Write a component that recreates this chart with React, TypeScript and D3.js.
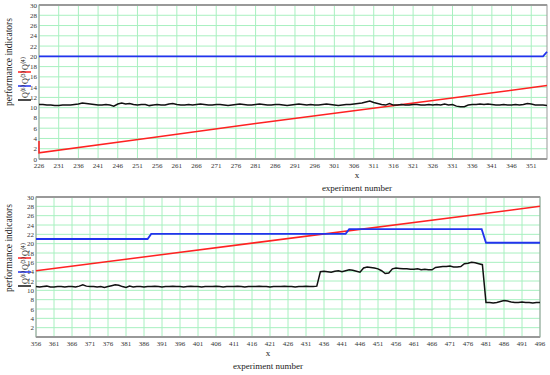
import React from 'react';
import * as d3 from 'd3';

// top panel (experiments 226..355)
const topDomain = [226, 355];
const topRed = [[226, 3.5], [226, 1.2], [254, 4.1], [281, 6.9], [355, 14.3]];
const topBlue = [[226, 20], [354, 20], [355, 20.9]];
const topBlack = [
  10.6, 10.6, 10.5, 10.5, 10.4, 10.4, 10.5, 10.5, 10.5, 10.6,
  10.7, 10.9, 10.8, 10.7, 10.6, 10.5, 10.5, 10.6, 10.5, 10.3,
  10.7, 10.9, 10.7, 10.8, 10.6, 10.5, 10.6, 10.6, 10.4, 10.5,
  10.6, 10.5, 10.5, 10.7, 10.8, 10.6, 10.5, 10.5, 10.6, 10.5,
  10.6, 10.7, 10.6, 10.5, 10.5, 10.6, 10.6, 10.5, 10.4, 10.5,
  10.6, 10.7, 10.6, 10.5, 10.5, 10.6, 10.7, 10.6, 10.5, 10.5,
  10.6, 10.6, 10.5, 10.4, 10.5, 10.6, 10.7, 10.6, 10.5, 10.6,
  10.5, 10.5, 10.6, 10.7, 10.6, 10.5, 10.4, 10.5, 10.6, 10.6,
  10.7, 10.8, 10.9, 11.1, 11.3, 11.0, 10.8, 10.6, 10.5, 10.8,
  10.5, 10.5, 10.6, 10.5, 10.5, 10.6, 10.6, 10.5, 10.5, 10.6,
  10.5, 10.6, 10.5, 10.7, 10.5, 10.6, 10.3, 10.2, 10.2, 10.5,
  10.6, 10.6, 10.7, 10.6, 10.7, 10.6, 10.5, 10.5, 10.6, 10.5,
  10.5, 10.6, 10.5, 10.6, 10.8, 10.7, 10.5, 10.5, 10.5, 10.4,
];
const topTicks = [226, 231, 236, 241, 246, 251, 256, 261, 266, 271, 276, 281, 286, 291, 296, 301, 306, 311, 316, 321, 326, 331, 336, 341, 346, 351];

// bottom panel (experiments 356..496)
const botDomain = [356, 496];
const botRed = [[356, 14.2], [496, 28]];
const botBlue = [[356, 21], [387, 21], [388, 22.1], [442, 22.1], [443, 23.1], [479.8, 23.1], [481, 20.2], [496, 20.2]];
const botBlack = [
  10.8, 10.7, 10.8, 10.9, 10.7, 10.7, 10.8, 10.8, 10.7, 10.8,
  10.8, 10.7, 10.9, 11.2, 10.9, 10.8, 10.8, 10.7, 10.8, 10.6,
  10.8, 11.0, 11.2, 11.1, 10.8, 10.6, 10.9, 10.7, 10.8, 10.8,
  10.7, 10.8, 10.8, 10.9, 10.8, 10.7, 10.8, 10.8, 10.9, 10.8,
  10.8, 10.7, 10.8, 10.9, 10.8, 10.8, 10.7, 10.8, 10.8, 10.8,
  10.9, 10.8, 10.7, 10.8, 10.8, 10.8, 10.9, 10.8, 10.7, 10.8,
  10.8, 10.8, 10.9, 10.8, 10.8, 10.7, 10.8, 10.8, 10.8, 10.9,
  10.8, 10.8, 10.7, 10.8, 10.8, 10.9, 10.8, 10.8, 10.9,
  14.0, 14.1, 14.0, 13.9, 14.1, 14.2, 14.0, 14.2, 14.4, 14.3,
  14.1, 13.9, 14.8, 15.0, 14.9, 14.8, 14.6, 14.2, 13.6, 13.7,
  14.6, 14.8, 14.7, 14.6, 14.6, 14.5, 14.5, 14.6, 14.4, 14.5,
  14.4, 14.4, 14.9, 15.0, 15.1, 15.1, 15.2, 15.0, 15.0, 15.1,
  15.7, 15.8, 16.0, 15.9, 15.7, 15.5,
  7.4, 7.4, 7.3, 7.4, 7.6, 7.8, 7.7, 7.5, 7.4, 7.4,
  7.5, 7.4, 7.4, 7.3, 7.4, 7.4,
];
const botTicks = [356, 361, 366, 371, 376, 381, 386, 391, 396, 401, 406, 411, 416, 421, 426, 431, 436, 441, 446, 451, 456, 461, 466, 471, 476, 481, 486, 491, 496];

const yTicks = [0, 2, 4, 6, 8, 10, 12, 14, 16, 18, 20, 22, 24, 26, 28, 30];
const legendSup = ['⟨4⟩', '⟨3⟩', '⟨6⟩'];
const legendColors = ['#ff2222', '#2233ee', '#111111'];

const FONT = '"Liberation Serif", "Times New Roman", serif';

function Panel({ box, domain, ticks, red, blue, black, showZero, labelX, labelY, legendY }) {
  const x = d3.scaleLinear().domain(domain).range([box.left, box.right]);
  const y = d3.scaleLinear().domain([0, 30]).range([box.bottom, box.top]);
  const line = d3.line().x((d) => x(d[0])).y((d) => y(d[1]));
  const blackPts = black.map((v, i) => [domain[0] + i, v]);
  return (
    <g>
      {ticks.map((t) => (
        <line key={'v' + t} x1={x(t)} x2={x(t)} y1={box.top} y2={box.bottom} stroke="#a8f0c0" strokeWidth={1} />
      ))}
      {yTicks.map((t) => (
        <line key={'h' + t} x1={box.left} x2={box.right} y1={y(t)} y2={y(t)} stroke="#a8f0c0" strokeWidth={1} />
      ))}
      <rect x={box.left} y={box.top} width={box.right - box.left} height={box.bottom - box.top} fill="none" stroke="#999" strokeWidth={1} />
      <line x1={box.left} x2={box.right} y1={box.top} y2={box.top} stroke="#999" strokeWidth={2} />
      <line x1={box.left} x2={box.right} y1={box.bottom} y2={box.bottom} stroke="#999" strokeWidth={2} />
      <path d={line(red)} fill="none" stroke="#ff2222" strokeWidth={1.5} />
      <path d={line(blue)} fill="none" stroke="#2233ee" strokeWidth={1.8} />
      <path d={line(blackPts)} fill="none" stroke="#111" strokeWidth={1.5} />
      {yTicks.filter((t) => showZero || t > 0).map((t) => (
        <text key={'yl' + t} x={box.left - 2} y={y(t) + 2.5} fontSize={7} textAnchor="end" fill="#333" fontFamily={FONT}>{t}</text>
      ))}
      {ticks.map((t) => (
        <text key={'xl' + t} x={x(t)} y={box.bottom + 9} fontSize={7} textAnchor="middle" fill="#333" fontFamily={FONT}>{t}</text>
      ))}
      <text x={labelX} y={labelY} fontSize={9} textAnchor="middle" fill="#222" fontFamily={FONT}>x</text>
      <text x={labelX} y={labelY + 13} fontSize={9} textAnchor="middle" fill="#222" fontFamily={FONT}>experiment number</text>
      <text transform={`translate(12,${legendY}) rotate(-90)`} fontSize={9.5} textAnchor="middle" fill="#222" fontFamily={FONT}>performance indicators</text>
      {legendSup.map((s, i) => {
        const cy = legendY + i * 14 + 3;
        return (
          <g key={'lg' + i}>
            <text transform={`translate(28,${cy + 5}) rotate(-90)`} fontSize={8} fill="#222" fontFamily={FONT}>
              Q<tspan fontSize={5.5} dy={-3.5}>{s}</tspan>
            </text>
            <line x1={18} x2={31} y1={cy + 7} y2={cy + 7} stroke={legendColors[i]} strokeWidth={1.5} />
          </g>
        );
      })}
    </g>
  );
}

export default function App() {
  return (
    <svg width={550} height={375} style={{ position: 'absolute', left: 0, top: 0, background: '#fff' }}>
      <Panel box={{ left: 39, right: 547, top: 5, bottom: 159 }} domain={topDomain} ticks={topTicks}
        red={topRed} blue={topBlue} black={topBlack} showZero={true} labelX={357} labelY={178} legendY={62} />
      <Panel box={{ left: 36, right: 540, top: 197, bottom: 337 }} domain={botDomain} ticks={botTicks}
        red={botRed} blue={botBlue} black={botBlack} showZero={false} labelX={268} labelY={356} legendY={248} />
    </svg>
  );
}
